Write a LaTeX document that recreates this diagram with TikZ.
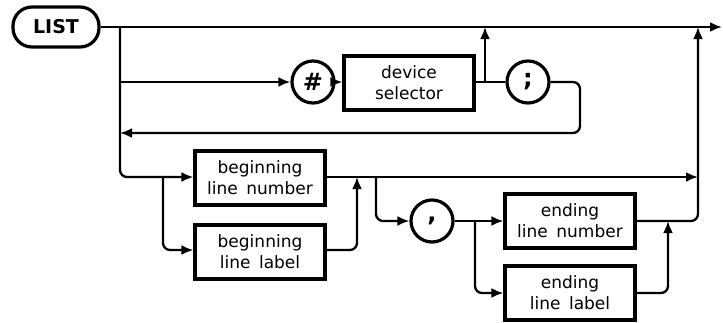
\documentclass[tikz,border=0pt]{standalone}
\usepackage{fontspec}
\setmainfont{DejaVu Sans}
\usetikzlibrary{arrows.meta}

\begin{document}
\begin{tikzpicture}[
  x=1pt, y=-1pt,
  font=\fontsize{17}{21}\selectfont,
  % --- diagram style ----------------------------------------------------
  term/.style={draw, line width=3.2pt, rounded corners=19pt,
               minimum width=86pt, minimum height=40pt,
               font=\fontsize{19}{20}\selectfont\bfseries},
  lit/.style={draw, circle, line width=3.2pt, minimum size=42pt, inner sep=0pt,
              font=\fontsize{24}{24}\selectfont\bfseries},
  item/.style={draw, line width=3.2pt, minimum width=130pt, minimum height=54pt,
               align=center, inner sep=2pt},
  conn/.style={line width=2.3pt, rounded corners=7pt},
  flow/.style={conn, -{Latex[length=12pt,width=10pt]}},
  % ---------------------------------------------------------------------
]
  \useasboundingbox (0,0) rectangle (723,322);

  % keyword and literals
  \node[term] (list) at (56,27) {LIST};
  \node[lit] (hash) at (313,82) {\#};
  \node[lit] (semi) at (528,82) {;};
  \node[lit] (comma) at (432,221) {,};

  % items
  \node[item] (devsel) at (409,83)  {device\\selector};
  \node[item] (blnum)  at (260,178) {beginning\\line\enspace number};
  \node[item] (bllab)  at (260,252) {beginning\\line\enspace label};
  \node[item] (elnum)  at (570,221) {ending\\line\enspace number};
  \node[item] (ellab)  at (570,293) {ending\\line\enspace label};

  % junctions
  \coordinate (exit)  at (722,27);
  \coordinate (jtop)  at (120,27);
  \coordinate (jsel)  at (120,82);
  \coordinate (back)  at (120,133);
  \coordinate (loopr) at (580,133);
  \coordinate (upin)  at (485,82);
  \coordinate (upout) at (485,27);
  \coordinate (jbeg)  at (163,177);
  \coordinate (bjoin) at (357,177);
  \coordinate (jend)  at (376,177);
  \coordinate (rjoin) at (698,177);
  \coordinate (rtop)  at (698,27);
  \coordinate (jcom)  at (475,221);
  \coordinate (ejoin) at (668,221);

  % Connectors
  \draw[flow] (list) -- (exit);
  \draw[flow] (jtop) |- (jbeg) -- (blnum.west |- jbeg);
  \draw[flow] (jsel) -- (hash.west);
  \draw[flow] (hash) -- (devsel.west |- hash);
  \draw[conn] (devsel.east |- semi) -- (semi.west);
  \draw[flow] (upin) -- (upout);
  \draw[flow] (semi.east) -| (loopr) -- (back);

  \draw[flow] (jbeg) |- (bllab.west |- 0,250);
  \draw[flow] (bllab.east |- 0,250) -| (bjoin);
  \draw[conn] (blnum.east |- bjoin) -- (jend);
  \draw[flow] (jend) -- (rjoin);

  \draw[flow] (jend) |- (comma.west);
  \draw[flow] (comma.east) -- (elnum.west);
  \draw[flow] (jcom) |- (ellab.west);
  \draw[flow] (elnum.east) -| (rtop);
  \draw[flow] (ellab.east) -| (ejoin);
\end{tikzpicture}
\end{document}
